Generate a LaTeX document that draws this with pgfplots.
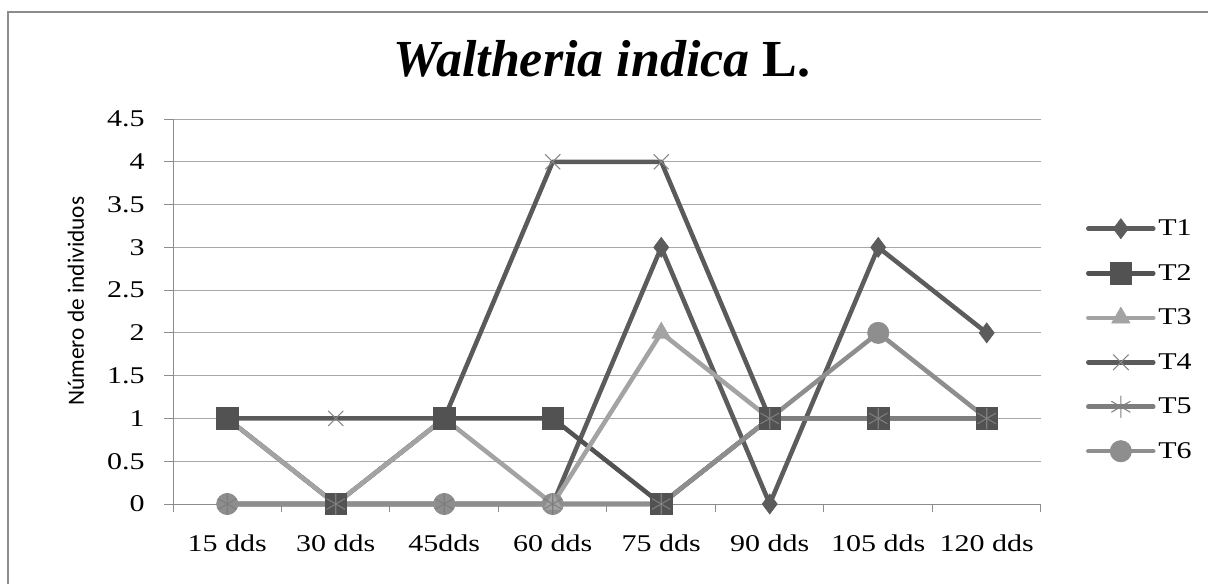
\documentclass[border=0pt]{standalone}
\usepackage{fontspec}
\setmainfont{Liberation Serif}[FakeStretch=1.25]
\newfontfamily\titlefont{Liberation Serif}
\newfontfamily\carlito{Carlito}
\usepackage{pgfplots}
\usepackage{pgfplotstable}
\pgfplotsset{compat=1.18}

\definecolor{cA}{HTML}{5C5C5C}
\definecolor{cB}{HTML}{525252}
\definecolor{cC}{HTML}{A3A3A3}
\definecolor{cD}{HTML}{5A5A5A}
\definecolor{cDm}{HTML}{858585}
\definecolor{cE}{HTML}{7E7E7E}
\definecolor{cF}{HTML}{8E8E8E}
\definecolor{gridc}{HTML}{A8A8A8}
\definecolor{framec}{HTML}{8C8C8C}

\pgfplotstableread{
x T1 T2 T3 T4 T5 T6
0 0 1 1 1 0 0
1 0 0 0 1 0 0
2 0 1 1 1 0 0
3 0 1 0 4 0 0
4 3 0 2 4 0 0
5 0 1 1 1 1 1
6 3 1 1 1 1 2
7 2 1 1 1 1 1
}\datatable

\pgfplotsset{
  lw/.style={line width=3.4pt, line cap=round, line join=round},
  mA/.style={mark=diamond*, mark size=7.5pt, mark options={solid, fill=cA, draw=cA, line width=0.5pt}},
  mB/.style={mark=square*, mark size=8pt, mark options={solid, fill=cB, draw=cB, line width=0.5pt}},
  mC/.style={mark=triangle*, mark size=8pt, mark options={solid, fill=cC, draw=cC, line width=0.5pt}},
  mD/.style={mark=x, mark size=8pt, mark options={solid, draw=cDm, line width=0.8pt}},
  mE/.style={mark=asterisk, mark size=8pt, mark options={solid, draw=cE, line width=0.8pt}},
  mF/.style={mark=*, mark size=8pt, mark options={solid, fill=cF, draw=cF, line width=0.5pt}},
}

\begin{document}
\begin{tikzpicture}[x=0.75pt,y=0.75pt]
\path[use as bounding box] (0,0) rectangle (1208,583);
\draw[framec, line width=2pt] (8,571) rectangle (1240,-30);
\node[font=\titlefont\fontsize{39}{39}\selectfont, anchor=base] at (602,506) {\textbf{\textit{Waltheria indica}} \textbf{L.}};
\begin{axis}[
  at={(129.75pt,59.25pt)}, anchor=south west,
  scale only axis, width=651pt, height=288.75pt,
  xmin=-0.5, xmax=7.5, ymin=0, ymax=4.5,
  clip=false,
  axis lines*=left,
  axis line style={-, draw=framec, line width=0.75pt},
  xtick={0,1,2,3,4,5,6,7},
  xticklabels={15 dds,30 dds,45dds,60 dds,75 dds,90 dds,105 dds,120 dds},
  minor xtick={-0.5,0.5,1.5,2.5,3.5,4.5,5.5,6.5,7.5},
  ytick={0,0.5,1,1.5,2,2.5,3,3.5,4,4.5},
  yticklabels={0,0.5,1,1.5,2,2.5,3,3.5,4,4.5},
  tick align=outside,
  major tick length=6.75pt,
  minor tick length=6pt,
  xtick style={draw=none},
  minor x tick style={draw=framec, line width=0.75pt},
  ytick style={draw=framec, line width=0.75pt},
  ymajorgrids,
  grid style={draw=gridc, line width=0.75pt},
  ticklabel style={font=\fontsize{18}{18}\selectfont},
  yticklabel style={xshift=-11pt},
  xticklabel style={yshift=-13pt},
  ylabel={Número de individuos},
  ylabel style={font=\carlito\fontsize{17.5}{17.5}\selectfont, at={(axis description cs:-0.112,0.527)}, anchor=center},
  legend style={at={(axis description cs:1.047,0.426)}, anchor=west, draw=none, fill=none,
    font=\fontsize{18}{18}\selectfont, row sep=16pt, line cap=round},
  legend cell align=left,
  legend image code/.code={\draw[mark repeat=2, mark phase=2, #1] plot coordinates {(0pt,0pt) (24.4pt,0pt) (48.75pt,0pt)};},
]
% legend
\addlegendimage{cA, lw, mA}\addlegendentry{T1}
\addlegendimage{cB, lw, mB}\addlegendentry{T2}
\addlegendimage{cC, lw, mC}\addlegendentry{T3}
\addlegendimage{cD, lw, mD}\addlegendentry{T4}
\addlegendimage{cE, lw, mE}\addlegendentry{T5}
\addlegendimage{cF, lw, mF}\addlegendentry{T6}
% lines
\addplot[forget plot, cA, lw, mark=none] table[x=x, y=T1]{\datatable};
\addplot[forget plot, cB, lw, mark=none] table[x=x, y=T2]{\datatable};
\addplot[forget plot, cD, lw, mark=none] table[x=x, y=T4]{\datatable};
\addplot[forget plot, cC, lw, mark=none] table[x=x, y=T3]{\datatable};
\addplot[forget plot, cE, lw, mark=none] table[x=x, y=T5]{\datatable};
\addplot[forget plot, cF, lw, mark=none] table[x=x, y=T6]{\datatable};
% markers
\addplot[forget plot, only marks, mA] table[x=x, y=T1]{\datatable};
\addplot[forget plot, only marks, mD] table[x=x, y=T4]{\datatable};
\addplot[forget plot, only marks, mF] table[x=x, y=T6]{\datatable};
\addplot[forget plot, only marks, mC] table[x=x, y=T3]{\datatable};
\addplot[forget plot, only marks, mB] table[x=x, y=T2]{\datatable};
\addplot[forget plot, only marks, mE] table[x=x, y=T5]{\datatable};
\end{axis}
\end{tikzpicture}
\end{document}
